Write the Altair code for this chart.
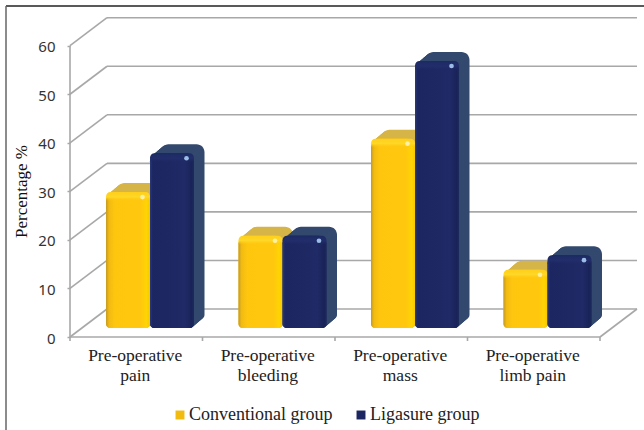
import altair as alt
import pandas as pd

categories = ["Pre-operative pain", "Pre-operative bleeding", "Pre-operative mass", "Pre-operative limb pain"]
conventional = [28, 19, 39, 12]
ligasure = [36, 19, 55, 15]
series_names = ["Conventional group", "Ligasure group"]
y_ticks = [0, 10, 20, 30, 40, 50, 60]

# Oblique projection, in data units: one category is 132.5 px, one percent 4.855 px
PX_X = 132.5
PX_Y = 4.855
WALL_DX, WALL_DY = 37 / PX_X, 28 / PX_Y
BAR_DX, BAR_DY = 10.5 / PX_X, 9 / PX_Y
X_MAX, Y_MAX = 567 / PX_X, 320 / PX_Y
BAR_LEFT, BAR_W = 36 / PX_X, 44 / PX_X
GRID = "#a8a8a8"

x_scale = alt.Scale(domain=[0, X_MAX], nice=False, zero=False)
y_scale = alt.Scale(domain=[0, Y_MAX], nice=False, zero=False)
color_scale = alt.Scale(domain=series_names, range=["#f2bb10", "#1c2660"])

X = alt.X("x:Q", scale=x_scale, title=None)
Y = alt.Y("y:Q", scale=y_scale, title="Percentage %")


def rules(rows, width=1.6, color=GRID):
    return alt.Chart(pd.DataFrame(rows, columns=["x", "x2", "y", "y2"])).mark_rule(
        color=color, strokeWidth=width
    ).encode(X, x2="x2:Q", y=Y, y2="y2:Q")


# Back wall, side wall and floor
grid_rows = []
for v in y_ticks:
    grid_rows.append((WALL_DX, X_MAX, v + WALL_DY, v + WALL_DY))
    grid_rows.append((0, WALL_DX, v, v + WALL_DY))
grid_rows.append((0, 0, 0, 60))
grid_rows.append((0, 4, 0, 0))
grid_rows.append((4, X_MAX, 0, WALL_DY))
for i in range(5):
    grid_rows.append((i, i, 0, -4 / PX_Y))
grid = rules(grid_rows)

# y axis and category labels come from real axes on an invisible layer
label_expr = "{'0.5':'Pre-operative|pain','1.5':'Pre-operative|bleeding','2.5':'Pre-operative|mass','3.5':'Pre-operative|limb pain'}[''+datum.value]"
axes = alt.Chart(pd.DataFrame({"x": [0.5, 1.5, 2.5, 3.5], "y": [0, 0, 0, 0]})).mark_point(opacity=0).encode(
    x=alt.X("x:Q", scale=x_scale, title=None, axis=alt.Axis(
        values=[0.5, 1.5, 2.5, 3.5], labelExpr="split(" + label_expr + ",'|')",
        domain=False, ticks=False, grid=False, labelFont="Liberation Serif", labelFontSize=17.5,
        labelColor="#222222", labelPadding=9, labelLineHeight=20, labelAngle=0, labelBaseline="top",
        labelOffset=-1.5,
    )),
    y=alt.Y("y:Q", scale=y_scale, title="Percentage %", axis=alt.Axis(
        values=y_ticks, domain=False, grid=False, tickSize=3, tickColor=GRID, tickWidth=1.5,
        labelFont="Noto Sans", labelFontSize=15, labelColor="#333333", labelPadding=12, labelOffset=1,
        titleFont="Liberation Serif", titleFontSize=17, titleFontWeight="normal",
        titleColor="#111111", titleX=-40, titleY=174, titleAngle=270,
    )),
)


def gradient(stops, x2=1, y2=0):
    return alt.Gradient(
        gradient="linear", x1=0, y1=0, x2=x2, y2=y2,
        stops=[alt.GradientStop(offset=o, color=c) for o, c in stops],
    )


def bar_layers(name, values, slot, depth_color, face_stops, bevel, dot):
    base = BAR_DY
    rows = [
        {"x": i + BAR_LEFT + slot * BAR_W, "x2": i + BAR_LEFT + (slot + 1) * BAR_W,
         "y": base + v, "y2": base, "series": name}
        for i, v in enumerate(values)
    ]
    df = pd.DataFrame(rows)

    # Depth: the rounded outline swept back along the projection direction
    steps = 12
    sweep = []
    for r in rows:
        for s in range(steps, 0, -1):
            f = s / steps
            sweep.append({**r, "x": r["x"] + f * BAR_DX, "x2": r["x2"] + f * BAR_DX,
                          "y": r["y"] + f * BAR_DY, "y2": r["y2"] + f * BAR_DY})
    corners = dict(cornerRadiusTopLeft=8, cornerRadiusTopRight=8,
                   cornerRadiusBottomLeft=4, cornerRadiusBottomRight=4)
    depth = alt.Chart(pd.DataFrame(sweep)).mark_bar(color=depth_color, **corners).encode(
        X, x2="x2:Q", y=Y, y2="y2:Q")
    solid = alt.Chart(df).mark_bar(**corners).encode(
        X, x2="x2:Q", y=Y, y2="y2:Q",
        color=alt.Color("series:N", scale=color_scale, legend=alt.Legend(
            orient="none", legendX=101, legendY=389, direction="horizontal", columns=2, title=None,
            symbolType="square", symbolSize=80, symbolStrokeWidth=0, labelFont="Liberation Serif",
            labelFontSize=18, labelColor="#222222", labelOffset=0, columnPadding=19, padding=0,
            labelLimit=200,
        )),
    )
    face = alt.Chart(df).mark_bar(color=gradient(face_stops), **corners).encode(
        X, x2="x2:Q", y=Y, y2="y2:Q")

    # Lit bevel along the top edge, and the specular spot at the corner
    bevel_df = df.assign(y2=df["y"] - 9 / PX_Y)
    top_edge = alt.Chart(bevel_df).mark_bar(
        color=gradient(bevel, x2=0, y2=1), cornerRadiusTopLeft=8, cornerRadiusTopRight=8
    ).encode(X, x2="x2:Q", y=Y, y2="y2:Q")
    dot_df = df.assign(x=df["x2"] - 7.5 / PX_X, y=df["y"] - 5 / PX_Y)
    spot = alt.Chart(dot_df).mark_point(filled=True, size=22, color=dot, opacity=0.9).encode(X, y=Y)
    return [depth, solid, face, top_edge, spot]


yellow = bar_layers(
    series_names[0], conventional, 0, "#d6b548",
    [(0, "#c49a25"), (0.07, "#f2bb10"), (0.2, "#ffc60f"), (0.8, "#ffc80e"), (0.92, "#ffd404"), (1, "#f7c800")],
    [(0, "#ffcf1a"), (0.55, "#ffd827"), (1, "#ffc60f00")],
    "#fff3b0",
)
navy = bar_layers(
    series_names[1], ligasure, 1, "#33496e",
    [(0, "#2b3a78"), (0.06, "#1c2660"), (0.8, "#1f2a66"), (0.95, "#1a2358"), (1, "#1c2a5c")],
    [(0, "#1c2a62"), (0.55, "#222e6c"), (1, "#1f2a6600")],
    "#a9cdf5",
)

# Outer frame of the figure
frame_top = alt.Chart(pd.DataFrame({"a": [0]})).mark_rule(color="#222222", strokeWidth=1.5).encode(
    x=alt.value(-64), x2=alt.value(574), y=alt.value(-11))
frame_left = alt.Chart(pd.DataFrame({"a": [0]})).mark_rule(color="#666666", strokeWidth=1.5).encode(
    x=alt.value(-64), y=alt.value(-11), y2=alt.value(413))

chart = alt.layer(axes, grid, *yellow, *navy, frame_top, frame_left).properties(
    width=567, height=320,
    padding={"left": 70, "top": 17, "right": 7, "bottom": 93},
    autosize=alt.AutoSizeParams(type="none"),
    background="white",
).configure_view(stroke=None)

chart.save("out.html", embed_options={"renderer": "svg", "actions": False})
